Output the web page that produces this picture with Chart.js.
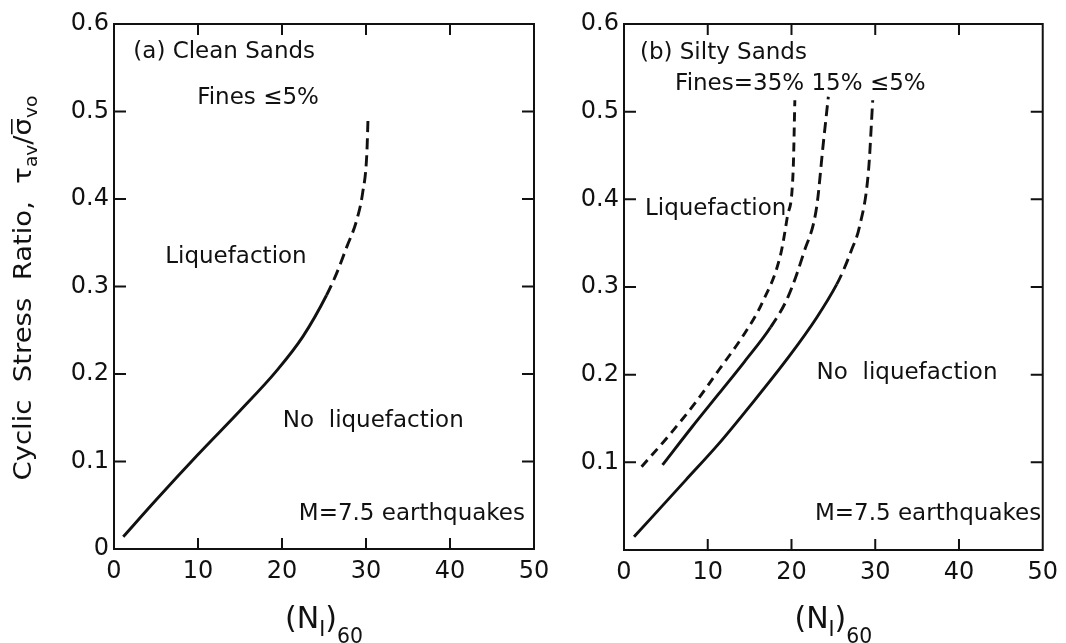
<!DOCTYPE html>
<html>
<head>
<meta charset="utf-8">
<script src="https://cdn.jsdelivr.net/npm/chart.js@4/dist/chart.umd.min.js"></script>
<style>
  body { margin: 0; background: #fff; }
  #wrap { position: relative; width: 1066px; height: 643px; }
  canvas { position: absolute; top: 0; }
</style>
</head>
<body>
<div id="wrap">
  <canvas id="chartA" width="560" height="643" style="left:0"></canvas>
  <canvas id="chartB" width="506" height="643" style="left:560px"></canvas>
</div>
<script>
// axis ticks
const xTicks = [0, 10, 20, 30, 40, 50];
const yTicks = [0, 0.1, 0.2, 0.3, 0.4, 0.5, 0.6];

// (a) clean sands, fines <= 5% (dashed from cleanDashFrom upward)
const cleanN = [1.1, 5, 10, 15, 19.3, 22.5, 25.3, 26.5, 27.7, 28.9, 29.6, 30.1, 30.25];
const cleanCSR = [0.014, 0.056, 0.108, 0.158, 0.203, 0.243, 0.29, 0.315, 0.345, 0.376, 0.407, 0.452, 0.495];
const cleanDashFrom = 25.3;

// (b) silty sands, fines <= 5%
const silty5N = [1.2, 7.4, 11.3, 15.1, 19.8, 23, 25.4, 26.2, 27.2, 28.1, 29.2, 29.7];
const silty5CSR = [0.015, 0.08, 0.121, 0.165, 0.222, 0.265, 0.303, 0.319, 0.343, 0.368, 0.433, 0.513];
const silty5DashFrom = 25.4;

// (b) fines = 15%
const silty15N = [4.6, 8.1, 11.3, 14.4, 17.5, 19.6, 21.5, 23.0, 23.8, 24.4];
const silty15CSR = [0.097, 0.14, 0.178, 0.215, 0.254, 0.289, 0.34, 0.391, 0.464, 0.517];
const silty15DashFrom = 17.5;

// (b) fines = 35% (all dashed)
const silty35N = [2.1, 5.4, 8.6, 11.3, 14.4, 16.5, 18.7, 19.5, 20.2, 20.4];
const silty35CSR = [0.095, 0.131, 0.169, 0.205, 0.247, 0.282, 0.337, 0.38, 0.433, 0.513];
const silty35DashFrom = 0;

const INK = '#111';
const FONT = '"DejaVu Sans", sans-serif';

function curve(ns, cs, dashFrom, dash) {
    return {
        data: ns.map((n, i) => ({ x: n, y: cs[i] })),
        showLine: true,
        borderColor: INK,
        borderWidth: 2.9,
        pointRadius: 0,
        cubicInterpolationMode: 'monotone',
        fill: false,
        segment: {
            borderDash: ctx => ctx.p0.parsed.x >= dashFrom ? dash : undefined
        }
    };
}

// draw text made of pieces, some of them subscripts or with an overbar
function drawRich(ctx, parts, cx, cy, size, fitWidth) {
    let w = 0;
    parts.forEach(p => {
        ctx.font = (p.sub ? size * 0.68 : size) + 'px ' + FONT;
        p.w = ctx.measureText(p.t).width;
        w += p.w;
    });
    ctx.save();
    ctx.translate(cx, cy);
    if (fitWidth) ctx.scale(fitWidth / w, 1);
    let px = -w / 2;
    const base = size * 0.36;
    ctx.textAlign = 'left';
    ctx.textBaseline = 'alphabetic';
    parts.forEach(p => {
        ctx.font = (p.sub ? size * 0.68 : size) + 'px ' + FONT;
        ctx.fillText(p.t, px, base + (p.sub ? size * p.sub : 0));
        if (p.bar) ctx.fillRect(px + 1, base - size * 0.8, p.w - 2, 1.6);
        px += p.w;
    });
    ctx.restore();
}

const frame = {
    id: 'frame',
    afterDatasetsDraw(chart, args, opts) {
        const { ctx, chartArea: a, scales: { x, y } } = chart;
        ctx.save();
        ctx.strokeStyle = INK;
        ctx.fillStyle = INK;
        ctx.lineWidth = 2;
        ctx.strokeRect(a.left, a.top, a.right - a.left, a.bottom - a.top);

        // inward ticks on all four sides
        ctx.beginPath();
        xTicks.slice(1, -1).forEach(v => {
            const px = x.getPixelForValue(v);
            ctx.moveTo(px, a.bottom); ctx.lineTo(px, a.bottom - 11);
            ctx.moveTo(px, a.top); ctx.lineTo(px, a.top + 11);
        });
        yTicks.slice(1, -1).forEach(v => {
            const py = y.getPixelForValue(v);
            ctx.moveTo(a.left, py); ctx.lineTo(a.left + 12, py);
            ctx.moveTo(a.right, py); ctx.lineTo(a.right - 12, py);
        });
        ctx.stroke();

        // notes inside the plot
        ctx.font = '23px ' + FONT;
        ctx.textAlign = 'left';
        ctx.textBaseline = 'middle';
        opts.notes.forEach(n => {
            ctx.fillText(n.text, x.getPixelForValue(n.x), y.getPixelForValue(n.y));
        });

        // x title (N1)60
        drawRich(ctx, [
            { t: '(N' }, { t: 'I', sub: 0.26 }, { t: ')' }, { t: '60', sub: 0.5 }
        ], (a.left + a.right) / 2, 617, 30);

        // y title
        if (opts.yTitle) {
            ctx.save();
            ctx.translate(22, 288);
            ctx.rotate(-Math.PI / 2);
            drawRich(ctx, [
                { t: 'Cyclic  Stress  Ratio,  τ' }, { t: 'av', sub: 0.25 },
                { t: '/' }, { t: 'σ', bar: true }, { t: 'vo', sub: 0.25 }
            ], 0, 0, 25, 385);
            ctx.restore();
        }
        ctx.restore();
    }
};

function scales(yLabel, yWidth, xHeight) {
    return {
        x: {
            type: 'linear', min: 0, max: 50,
            afterBuildTicks: s => { s.ticks = xTicks.map(v => ({ value: v })); },
            afterFit: s => { s.height = xHeight; },
            grid: { display: false, drawTicks: false },
            border: { display: false },
            ticks: { padding: 8, maxRotation: 0, color: INK, font: { family: FONT, size: 24 } }
        },
        y: {
            type: 'linear', min: 0, max: 0.6,
            afterBuildTicks: s => { s.ticks = yTicks.map(v => ({ value: v })); },
            afterFit: s => { s.width = yWidth; },
            grid: { display: false, drawTicks: false },
            border: { display: false },
            ticks: { padding: 5, color: INK, font: { family: FONT, size: 24 }, callback: yLabel }
        }
    };
}

new Chart(document.getElementById('chartA'), {
    type: 'scatter',
    data: {
        datasets: [
            curve(cleanN, cleanCSR, cleanDashFrom, [11, 6])
        ]
    },
    options: {
        responsive: false,
        animation: false,
        layout: { padding: { top: 24, right: 26, left: 0, bottom: 0 } },
        plugins: {
            legend: { display: false },
            tooltip: { enabled: false },
            frame: {
                yTitle: true,
                notes: [
                    { text: '(a) Clean Sands', x: 2.3, y: 0.568 },
                    { text: 'Fines ≤5%', x: 9.9, y: 0.515 },
                    { text: 'Liquefaction', x: 6.1, y: 0.334 },
                    { text: 'No  liquefaction', x: 20.1, y: 0.146 },
                    { text: 'M=7.5 earthquakes', x: 22.0, y: 0.040 }
                ]
            }
        },
        scales: scales(v => v === 0 ? '0' : v.toFixed(1), 114, 94)
    },
    plugins: [frame]
});

new Chart(document.getElementById('chartB'), {
    type: 'scatter',
    data: {
        datasets: [
            curve(silty5N, silty5CSR, silty5DashFrom, [11, 6]),
            curve(silty15N, silty15CSR, silty15DashFrom, [11, 6]),
            curve(silty35N, silty35CSR, silty35DashFrom, [9, 6])
        ]
    },
    options: {
        responsive: false,
        animation: false,
        layout: { padding: { top: 24, right: 18, left: 0, bottom: 0 } },
        plugins: {
            legend: { display: false },
            tooltip: { enabled: false },
            frame: {
                yTitle: false,
                notes: [
                    { text: '(b) Silty Sands', x: 1.9, y: 0.567 },
                    { text: 'Fines=35% 15% ≤5%', x: 6.1, y: 0.532 },
                    { text: 'Liquefaction', x: 2.5, y: 0.389 },
                    { text: 'No  liquefaction', x: 23.0, y: 0.202 },
                    { text: 'M=7.5 earthquakes', x: 22.8, y: 0.041 }
                ]
            }
        },
        scales: scales(v => v === 0 ? '' : v.toFixed(1), 64, 93)
    },
    plugins: [frame]
});
</script>
</body>
</html>
